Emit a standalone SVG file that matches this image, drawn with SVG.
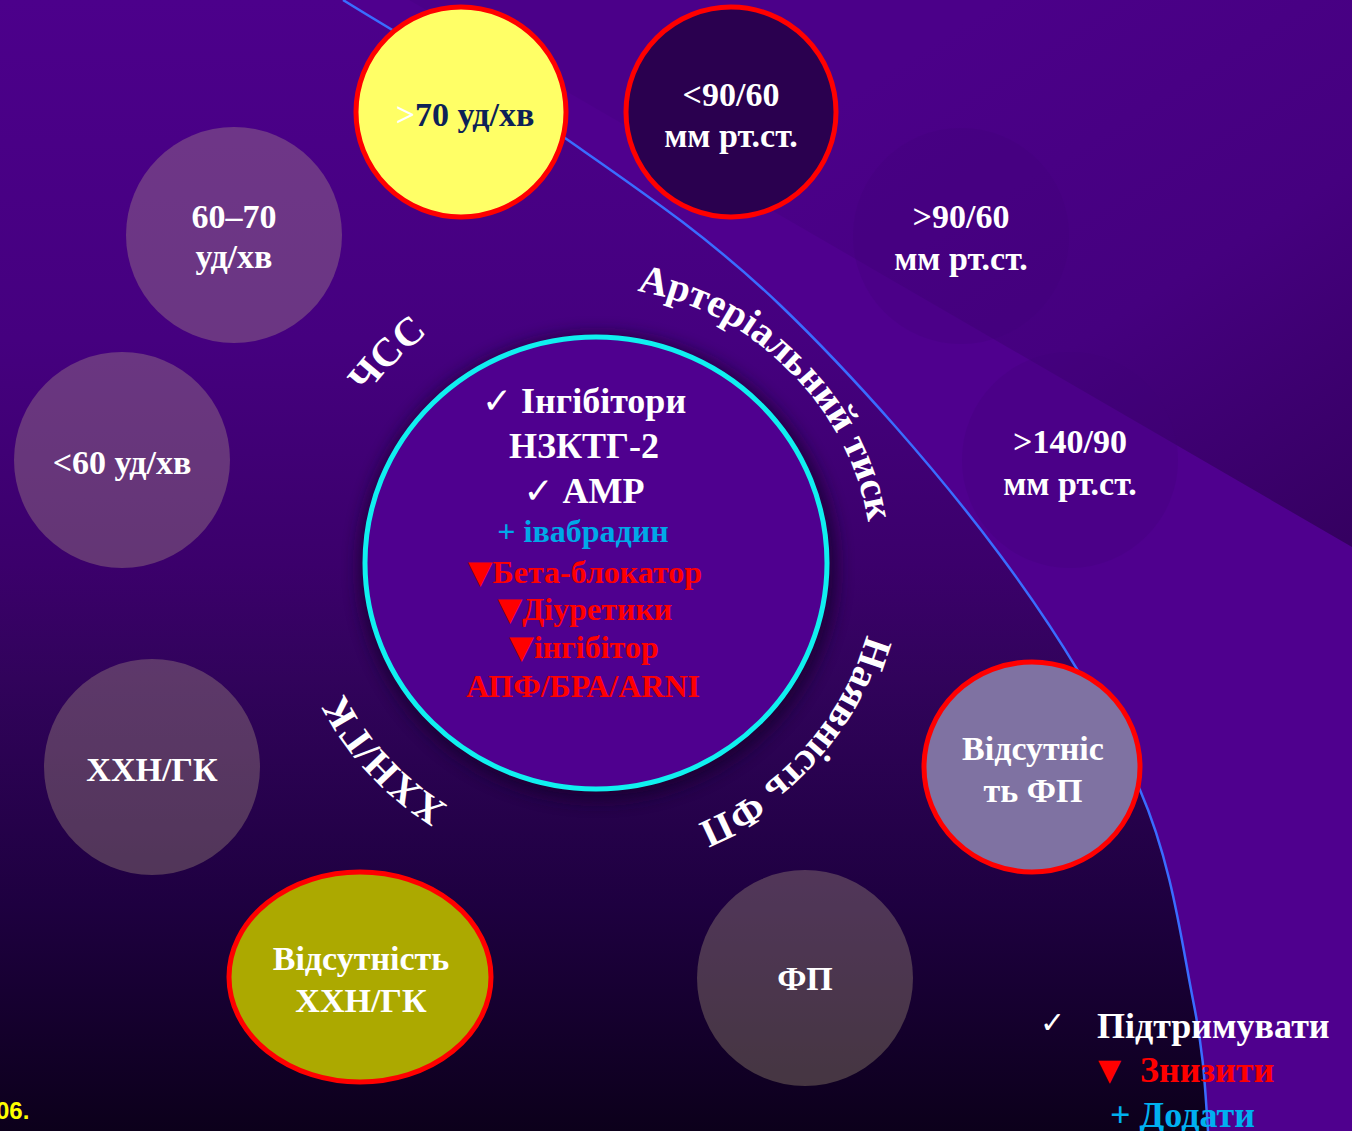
<svg xmlns="http://www.w3.org/2000/svg" width="1352" height="1131" viewBox="0 0 1352 1131">
<defs>
<style>
.t{font-family:"Liberation Serif","Times New Roman",serif;font-weight:bold;}
.sym{font-family:"DejaVu Sans",sans-serif;}
.w{fill:#ffffff}
.n{font-size:34px;text-anchor:middle;fill:#ffffff}
.c36{font-size:36px;text-anchor:middle;fill:#ffffff}
.red{font-size:32px;text-anchor:middle;fill:#ff0000}
.arc{font-size:40px;fill:#ffffff}
.soft{fill:#c2b48c;fill-opacity:0.3}
.faint{fill:#3e0076;fill-opacity:0.25}
.ring{stroke:#ff0000;stroke-width:5}
.leg{font-size:36px}
</style>
<linearGradient id="bgL" gradientUnits="userSpaceOnUse" x1="0" y1="0" x2="0" y2="1131">
<stop offset="0" stop-color="#4c008b"/>
<stop offset="0.3" stop-color="#45007f"/>
<stop offset="0.5" stop-color="#3b006b"/>
<stop offset="0.6" stop-color="#31035b"/>
<stop offset="0.8" stop-color="#1e0040"/>
<stop offset="1" stop-color="#0c001b"/>
</linearGradient>
<linearGradient id="wedge" gradientUnits="userSpaceOnUse" x1="1000" y1="0" x2="1352" y2="560">
<stop offset="0" stop-color="#4b0089"/>
<stop offset="0.5" stop-color="#45007f"/>
<stop offset="1" stop-color="#34005f"/>
</linearGradient>
<filter id="blur" x="-20%" y="-20%" width="140%" height="140%">
<feGaussianBlur stdDeviation="8"/>
</filter>
<path id="pCSS" d="M796.8,763.8 A284,284 0 1 1 395.2,362.2 A284,284 0 1 1 796.8,763.8"/>
<path id="pAT" d="M403.7,755.3 A272,272 0 1 1 788.3,370.7 A272,272 0 1 1 403.7,755.3"/>
<path id="pFP" d="M388.8,377.7 A278,278 0 1 1 803.2,748.3 A278,278 0 1 1 388.8,377.7"/>
<path id="pXX" d="M803.7,369.3 A284,284 0 1 1 388.3,756.7 A284,284 0 1 1 803.7,369.3"/>
</defs>

<g id="background">
<rect width="1352" height="1131" fill="#4f008e"/>
<polygon points="409,0 1352,0 1352,547" fill="url(#wedge)"/>
<path d="M0,0 L343,0 C417,46 492,87 565,138 C638,189 707.5,235.5 780,305 C852.5,374.5 940,474.2 1000,555 C1060,635.8 1107.8,715.8 1140,790 C1172.2,864.2 1181.7,943.2 1193,1000 C1204.3,1056.8 1205,1088 1208,1131 L0,1131 Z" fill="url(#bgL)"/>
</g>

<g id="node-bp-normal"><circle class="faint" cx="961" cy="236" r="108"/><text class="t n" x="961" y="228">&gt;90/60</text><text class="t n" x="961" y="270">мм рт.ст.</text></g>
<g id="node-bp-high"><circle class="faint" cx="1070" cy="460" r="108"/><text class="t n" x="1070" y="453">&gt;140/90</text><text class="t n" x="1070" y="495">мм рт.ст.</text></g>

<g id="connectors">
<path d="M343,0 C417,46 492,87 565,138 C638,189 707.5,235.5 780,305 C852.5,374.5 940,474.2 1000,555 C1060,635.8 1107.8,715.8 1140,790 C1172.2,864.2 1181.7,943.2 1193,1000 C1204.3,1056.8 1205,1088 1208,1131" fill="none" stroke="#3a6cff" stroke-width="2.5"/>
</g>

<g id="node-hr-high"><circle cx="461" cy="112" r="105" fill="#ffff66" class="ring"/><text class="t" x="465" y="126" font-size="34" text-anchor="middle" fill="#0d2257"><tspan fill="#ffffff">&gt;</tspan>70 уд/хв</text></g>
<g id="node-bp-low"><circle cx="731" cy="112" r="105" fill="#2a004f" class="ring"/><text class="t n" x="731" y="106">&lt;90/60</text><text class="t n" x="731" y="147">мм рт.ст.</text></g>
<g id="node-hr-mid"><circle class="soft" cx="234" cy="235" r="108"/><text class="t n" x="234" y="228">60–70</text><text class="t n" x="234" y="268">уд/хв</text></g>
<g id="node-hr-low"><circle class="soft" cx="122" cy="460" r="108"/><text class="t n" x="122" y="474">&lt;60 уд/хв</text></g>
<g id="node-hf"><circle class="soft" cx="152" cy="767" r="108"/><text class="t n" x="152" y="781">ХХН/ГК</text></g>
<g id="node-no-hf"><ellipse cx="360" cy="977" rx="131" ry="105" fill="#aca900" class="ring"/><text class="t n" x="361" y="970">Відсутність</text><text class="t n" x="361" y="1012">ХХН/ГК</text></g>
<g id="node-af"><circle class="soft" cx="805" cy="978" r="108"/><text class="t n" x="805" y="990">ФП</text></g>
<g id="node-no-af"><ellipse cx="1032" cy="767" rx="108" ry="105" fill="#7f72a2" class="ring"/><text class="t n" x="1033" y="760">Відсутніс</text><text class="t n" x="1033" y="802">ть ФП</text></g>

<g id="node-center">
<ellipse cx="598" cy="567" rx="240" ry="234" fill="#12002a" opacity="0.7" filter="url(#blur)"/>
<ellipse cx="596" cy="563" rx="231" ry="226" fill="#4f008f" stroke="#10f0f0" stroke-width="5"/>
<text class="t c36" x="584" y="413"><tspan class="sym">✓</tspan> Інгібітори</text>
<text class="t c36" x="584" y="458">НЗКТГ-2</text>
<text class="t c36" x="584" y="503"><tspan class="sym">✓</tspan> АМР</text>
<text class="t red" x="583" y="542" style="fill:#00a8e8">+ івабрадин</text>
<text class="t red" x="585" y="583"><tspan class="sym">▼</tspan>Бета-блокатор</text>
<text class="t red" x="585" y="620"><tspan class="sym">▼</tspan>Діуретики</text>
<text class="t red" x="584" y="658"><tspan class="sym">▼</tspan>інгібітор</text>
<text class="t red" x="583" y="697">АПФ/БРА/ARNI</text>
</g>

<g id="labels-curved">
<text class="t arc"><textPath href="#pCSS" startOffset="50%" text-anchor="middle">ЧСС</textPath></text>
<text class="t arc"><textPath href="#pAT" startOffset="50%" text-anchor="middle">Артеріальний тиск</textPath></text>
<text class="t arc"><textPath href="#pFP" startOffset="50%" text-anchor="middle">Наявність ФП</textPath></text>
<text class="t arc"><textPath href="#pXX" startOffset="50%" text-anchor="middle">ХХН/ГК</textPath></text>
</g>

<g id="legend">
<text class="sym" x="1040" y="1033" font-size="30" fill="#ffffff">✓</text>
<text class="t leg" x="1097" y="1038" fill="#ffffff">Підтримувати</text>
<text class="sym" x="1098" y="1080" font-size="30" fill="#ff0000">▼</text>
<text class="t leg" x="1140" y="1082" fill="#ff0000">Знизити</text>
<text class="t leg" x="1110" y="1127" fill="#00b0f0">+ Додати</text>
</g>

<text x="-4" y="1119" font-family="Liberation Sans, Arial, sans-serif" font-weight="bold" font-size="24" fill="#ffff00">06.</text>
</svg>
